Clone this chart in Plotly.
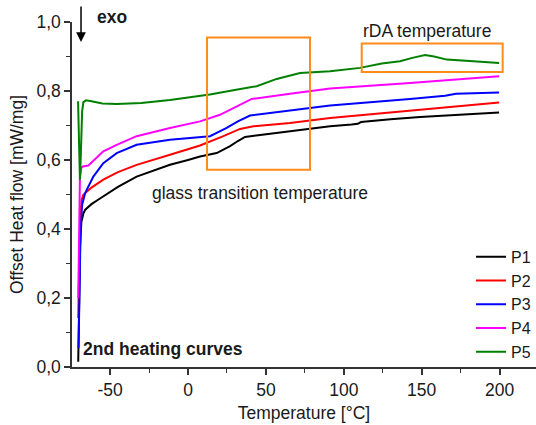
import plotly.graph_objects as go

# ---- data ----
p1_t = [-70.5, -70.0, -69.3, -68.5, -67.2, -66, -62, -58, -54.4, -45, -33, -22, -11.6, 0, 7.7, 18.4, 27, 32, 36.6, 45, 65.5, 91.2, 105, 109, 111, 113, 130, 149, 175, 199.7]
p1_v = [0.015, 0.20, 0.35, 0.42, 0.445, 0.456, 0.472, 0.484, 0.494, 0.522, 0.552, 0.570, 0.586, 0.600, 0.610, 0.620, 0.640, 0.655, 0.667, 0.672, 0.683, 0.698, 0.703, 0.705, 0.710, 0.711, 0.718, 0.725, 0.731, 0.738]

p2_t = [-70.5, -70.0, -69.2, -68.3, -67.2, -62, -54.4, -45, -33, -11.6, 1.3, 7.7, 22.7, 33.4, 42, 65.5, 91.2, 142.5, 199.7]
p2_v = [0.142, 0.30, 0.44, 0.485, 0.499, 0.52, 0.543, 0.565, 0.586, 0.615, 0.632, 0.642, 0.669, 0.690, 0.698, 0.707, 0.722, 0.744, 0.767]

p3_t = [-70.3, -69.8, -69.0, -68.0, -66, -60.8, -54.4, -45.8, -33, -11.6, 1.3, 14.1, 24.8, 32, 39.8, 65.5, 91.2, 142.5, 165, 172, 199.7]
p3_v = [0.055, 0.25, 0.40, 0.47, 0.505, 0.552, 0.591, 0.620, 0.644, 0.659, 0.664, 0.669, 0.693, 0.712, 0.729, 0.744, 0.758, 0.777, 0.786, 0.792, 0.796]

p4_t = [-70.5, -70.0, -69.4, -68.5, -67.6, -64, -60, -54.4, -45.8, -33, -11.6, 1.3, 7.7, 20.5, 33.4, 40.9, 65.5, 91.2, 142.5, 199.7]
p4_v = [0.20, 0.42, 0.55, 0.578, 0.581, 0.584, 0.600, 0.625, 0.644, 0.669, 0.693, 0.705, 0.712, 0.731, 0.760, 0.777, 0.792, 0.807, 0.823, 0.843]

p5_t = [-70.6, -70.0, -69.4, -68.8, -68.0, -67.2, -65.5, -62, -55, -45.8, -30, -11.6, 1.3, 14, 29.1, 44.1, 56.9, 71.9, 91.2, 110.4, 124.4, 136.1, 144, 152.2, 158, 166.1, 183.2, 199.7]
p5_v = [0.770, 0.65, 0.543, 0.62, 0.74, 0.768, 0.773, 0.770, 0.764, 0.762, 0.765, 0.774, 0.782, 0.790, 0.802, 0.814, 0.835, 0.852, 0.857, 0.867, 0.880, 0.886, 0.896, 0.904, 0.900, 0.891, 0.886, 0.881]

names = ["P1", "P2", "P3", "P4", "P5"]
colors = ["#000000", "#ff0000", "#0000ff", "#ff00ff", "#008000"]
series = [(p1_t, p1_v), (p2_t, p2_v), (p3_t, p3_v), (p4_t, p4_v), (p5_t, p5_v)]

x_tickvals = [-50, 0, 50, 100, 150, 200]
x_ticktext = ["-50", "0", "50", "100", "150", "200"]

# annotation boxes (data coords)
tg_box = [12.2, 78.3, 0.572, 0.955]
rda_box = [111.5, 202.0, 0.855, 0.938]

FONT = "Arial, Liberation Sans, sans-serif"
TXT = "#1a1a1a"
ORANGE = "#ff8c1a"
FS = 17.5

fig = go.Figure()
for (t, v), n, c in zip(series, names, colors):
    fig.add_trace(go.Scatter(x=t, y=v, mode="lines", name=n,
                             line=dict(color=c, width=2)))

for b in (tg_box, rda_box):
    fig.add_shape(type="rect", x0=b[0], x1=b[1], y0=b[2], y1=b[3],
                  xref="x", yref="y", line=dict(color=ORANGE, width=2))

fig.add_annotation(x=-60, xref="x", y=1.0145, yref="paper", text="<b>exo</b>", showarrow=False,
                   xanchor="left", yanchor="middle", font=dict(size=FS, color=TXT, family=FONT))
fig.add_annotation(x=-68.7, xref="x", y=0.942, yref="paper", ax=0, ay=-37,
                   text="", showarrow=True, arrowhead=2, arrowsize=1.3, arrowwidth=1.5,
                   arrowcolor="#000000")
fig.add_annotation(x=-68.5, y=0.052, text="<b>2nd heating curves</b>", showarrow=False,
                   xanchor="left", yanchor="middle", font=dict(size=FS, color=TXT, family=FONT))
fig.add_annotation(x=46, y=0.505, text="glass transition temperature", showarrow=False,
                   xanchor="center", yanchor="middle", font=dict(size=FS, color=TXT, family=FONT))
fig.add_annotation(x=153.5, y=0.975, text="rDA temperature", showarrow=False,
                   xanchor="center", yanchor="middle", font=dict(size=FS, color=TXT, family=FONT))

axis_common = dict(showgrid=False, zeroline=False, showline=True, linecolor="#333333",
                   linewidth=1.5, ticks="outside", ticklen=6, tickwidth=1.5, tickcolor="#333333",
                   tickfont=dict(size=FS, color=TXT, family=FONT), mirror=False)

fig.update_xaxes(range=[-74.5, 223.4], tickvals=x_tickvals, ticktext=x_ticktext,
                 minor=dict(ticks="outside", dtick=25, ticklen=4, tickcolor="#333333", tickwidth=1.2),
                 title=dict(text="Temperature [°C]", font=dict(size=FS, color=TXT, family=FONT), standoff=8),
                 **axis_common)
fig.update_yaxes(range=[0, 1.0], dtick=0.2, tickformat=".1f",
                 minor=dict(ticks="outside", dtick=0.1, ticklen=4, tickcolor="#333333", tickwidth=1.2),
                 title=dict(text="Offset Heat flow [mW/mg]", font=dict(size=FS, color=TXT, family=FONT), standoff=8),
                 **axis_common)

fig.update_layout(
    width=536, height=425,
    margin=dict(l=72, r=0, t=22, b=58),
    plot_bgcolor="white", paper_bgcolor="white",
    separators=",.",
    font=dict(family=FONT, color=TXT),
    legend=dict(x=0.86, y=-0.005, xanchor="left", yanchor="bottom",
                bgcolor="rgba(0,0,0,0)", font=dict(size=16, color=TXT, family=FONT),
                tracegroupgap=0, itemwidth=30),
)

fig.write_html("out.html")
